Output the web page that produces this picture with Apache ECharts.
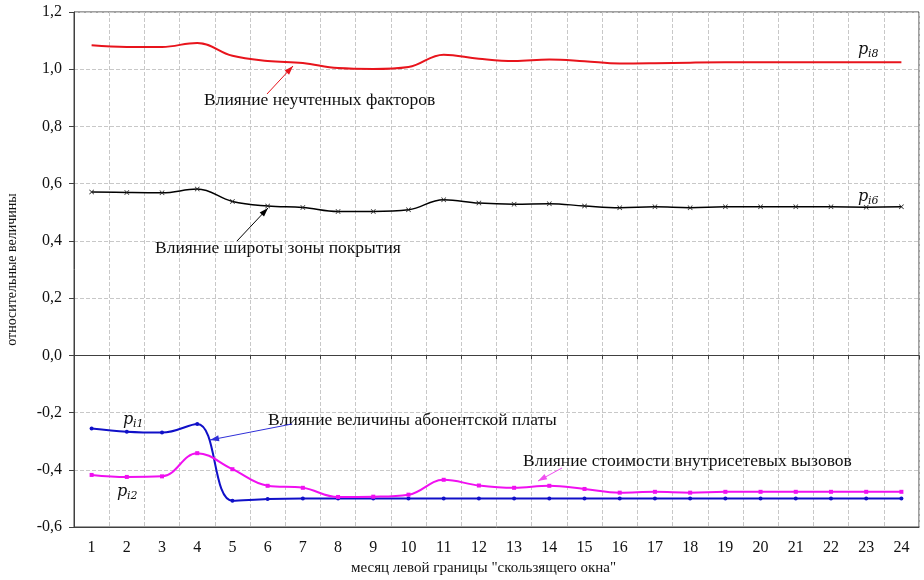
<!DOCTYPE html>
<html>
<head>
<meta charset="utf-8">
<script src="https://cdn.jsdelivr.net/npm/echarts@6/dist/echarts.min.js"></script>
<style>html,body{margin:0;padding:0;background:#fff;}#c{width:924px;height:580px;}</style>
</head>
<body>
<div id="c"></div>
<script>
const months = ['1','2','3','4','5','6','7','8','9','10','11','12','13','14','15','16','17','18','19','20','21','22','23','24'];
const yTicks = [-0.6, -0.4, -0.2, 0.0, 0.2, 0.4, 0.6, 0.8, 1.0, 1.2];
const p8 = [1.084, 1.078, 1.078, 1.092, 1.047, 1.029, 1.022, 1.004, 1.001, 1.008, 1.051, 1.037, 1.029, 1.034, 1.028, 1.020, 1.021, 1.023, 1.024, 1.024, 1.024, 1.024, 1.024, 1.024];
const p6 = [0.571, 0.569, 0.568, 0.581, 0.538, 0.522, 0.517, 0.503, 0.503, 0.509, 0.544, 0.532, 0.528, 0.530, 0.522, 0.516, 0.519, 0.516, 0.519, 0.519, 0.519, 0.519, 0.518, 0.519];
const p1 = [-0.256, -0.267, -0.270, -0.240, -0.508, -0.502, -0.500, -0.500, -0.500, -0.500, -0.500, -0.500, -0.500, -0.500, -0.500, -0.500, -0.500, -0.500, -0.500, -0.500, -0.500, -0.500, -0.500, -0.500];
const p2 = [-0.418, -0.425, -0.423, -0.342, -0.398, -0.456, -0.463, -0.495, -0.494, -0.487, -0.435, -0.455, -0.463, -0.456, -0.467, -0.480, -0.477, -0.480, -0.477, -0.477, -0.477, -0.477, -0.477, -0.477];

const FONT = '"Liberation Serif", "DejaVu Serif", serif';
const AX = '#404040';
const GRIDC = '#c8c8c8';

function arrow(x1, y1, x2, y2, color) {
  const a = Math.atan2(y2 - y1, x2 - x1);
  const L = 9, W = 3;
  const bx = x2 - L * Math.cos(a), by = y2 - L * Math.sin(a);
  const l = [bx + W * Math.sin(a), by - W * Math.cos(a)];
  const r = [bx - W * Math.sin(a), by + W * Math.cos(a)];
  return [
    {type: 'line', shape: {x1: x1, y1: y1, x2: x2, y2: y2}, style: {stroke: color, lineWidth: 1}, z: 100},
    {type: 'polygon', shape: {points: [[x2, y2], l, r]}, style: {fill: color}, z: 100}
  ];
}
function label(x, y, text) {
  return {type: 'text', x: x, y: y, z: 100, style: {text: text, fontFamily: FONT, fontSize: 17.5, fill: '#111', verticalAlign: 'middle'}};
}
function plabel(x, y, sub) {
  return [
    {type: 'text', x: x, y: y, z: 100, style: {text: 'p', fontFamily: '"DejaVu Serif", serif', fontStyle: 'italic', fontSize: 16, fill: '#111', verticalAlign: 'middle'}},
    {type: 'text', x: x + 10, y: y + 4, z: 100, style: {text: sub, fontFamily: '"DejaVu Serif", serif', fontStyle: 'italic', fontSize: 11, fill: '#111', verticalAlign: 'middle'}}
  ];
}
const xSym = 'path://M0,1L1,0L5,4L9,0L10,1L6,5L10,9L9,10L5,6L1,10L0,9L4,5Z';

const chart = echarts.init(document.getElementById('c'));
chart.setOption({
  animation: false,
  backgroundColor: '#fff',
  grid: {left: 74, right: 5, top: 12, bottom: 53, show: true, borderColor: AX, borderWidth: 1, outerBoundsMode: 'none', containLabel: false},
  xAxis: [{
    type: 'category', data: months, boundaryGap: true, position: 'bottom',
    axisLine: {onZero: false, lineStyle: {color: AX}},
    axisTick: {show: false},
    axisLabel: {margin: 13, fontFamily: FONT, fontSize: 16, color: '#111'},
    splitLine: {show: true, lineStyle: {type: 'dashed', color: GRIDC}},
    name: 'месяц левой границы "скользящего окна"', nameLocation: 'middle', nameGap: 33,
    nameTextStyle: {fontFamily: FONT, fontSize: 15, color: '#111', padding: [0, 26, 0, 0]}
  }, {
    type: 'category', data: months, boundaryGap: true, position: 'bottom',
    axisLine: {onZero: true, lineStyle: {color: AX}},
    axisTick: {show: true, length: 4, lineStyle: {color: AX}},
    axisLabel: {show: false},
    splitLine: {show: false}
  }],
  yAxis: {
    type: 'value', min: yTicks[0], max: yTicks[yTicks.length - 1], interval: 0.2,
    axisLine: {show: true, lineStyle: {color: AX}},
    axisTick: {show: true, length: 5, lineStyle: {color: AX}},
    axisLabel: {margin: 12, fontFamily: FONT, fontSize: 16, color: '#111',
      formatter: function (v) { return v.toFixed(1).replace('.', ','); }},
    splitLine: {show: true, lineStyle: {type: 'dashed', color: GRIDC}},
    name: 'относительные величины', nameLocation: 'middle', nameGap: 55,
    nameTextStyle: {fontFamily: FONT, fontSize: 14, color: '#111'}
  },
  series: [
    {name: 'p8', type: 'line', data: p8, smooth: 0.4, symbol: 'none', lineStyle: {color: '#e8141c', width: 2}, itemStyle: {color: '#e8141c'}},
    {name: 'p6', type: 'line', data: p6, smooth: 0.4, symbol: xSym, symbolSize: 5, showSymbol: true, lineStyle: {color: '#000', width: 1.5}, itemStyle: {color: '#222'}},
    {name: 'p1', type: 'line', data: p1, smooth: 0.4, symbol: 'circle', symbolSize: 4, lineStyle: {color: '#1010c8', width: 2}, itemStyle: {color: '#1010c8'}},
    {name: 'p2', type: 'line', data: p2, smooth: 0.4, symbol: 'rect', symbolSize: 4, lineStyle: {color: '#f010f0', width: 2}, itemStyle: {color: '#f010f0'}}
  ],
  graphic: [].concat(
    label(204, 100, 'Влияние неучтенных факторов'),
    arrow(267, 94, 293, 66, '#e8141c'),
    label(155, 248, 'Влияние широты зоны покрытия'),
    arrow(237, 241, 268, 208, '#000'),
    label(268, 420, 'Влияние величины абонентской платы'),
    arrow(292, 424, 210, 440, '#3030d8'),
    label(523, 461, 'Влияние стоимости внутрисетевых вызовов'),
    arrow(562, 468, 538, 481, '#f050f0'),
    plabel(858, 50, 'i8'),
    plabel(858, 197, 'i6'),
    plabel(123, 420, 'i1'),
    plabel(117, 492, 'i2')
  )
});
</script>
</body>
</html>
